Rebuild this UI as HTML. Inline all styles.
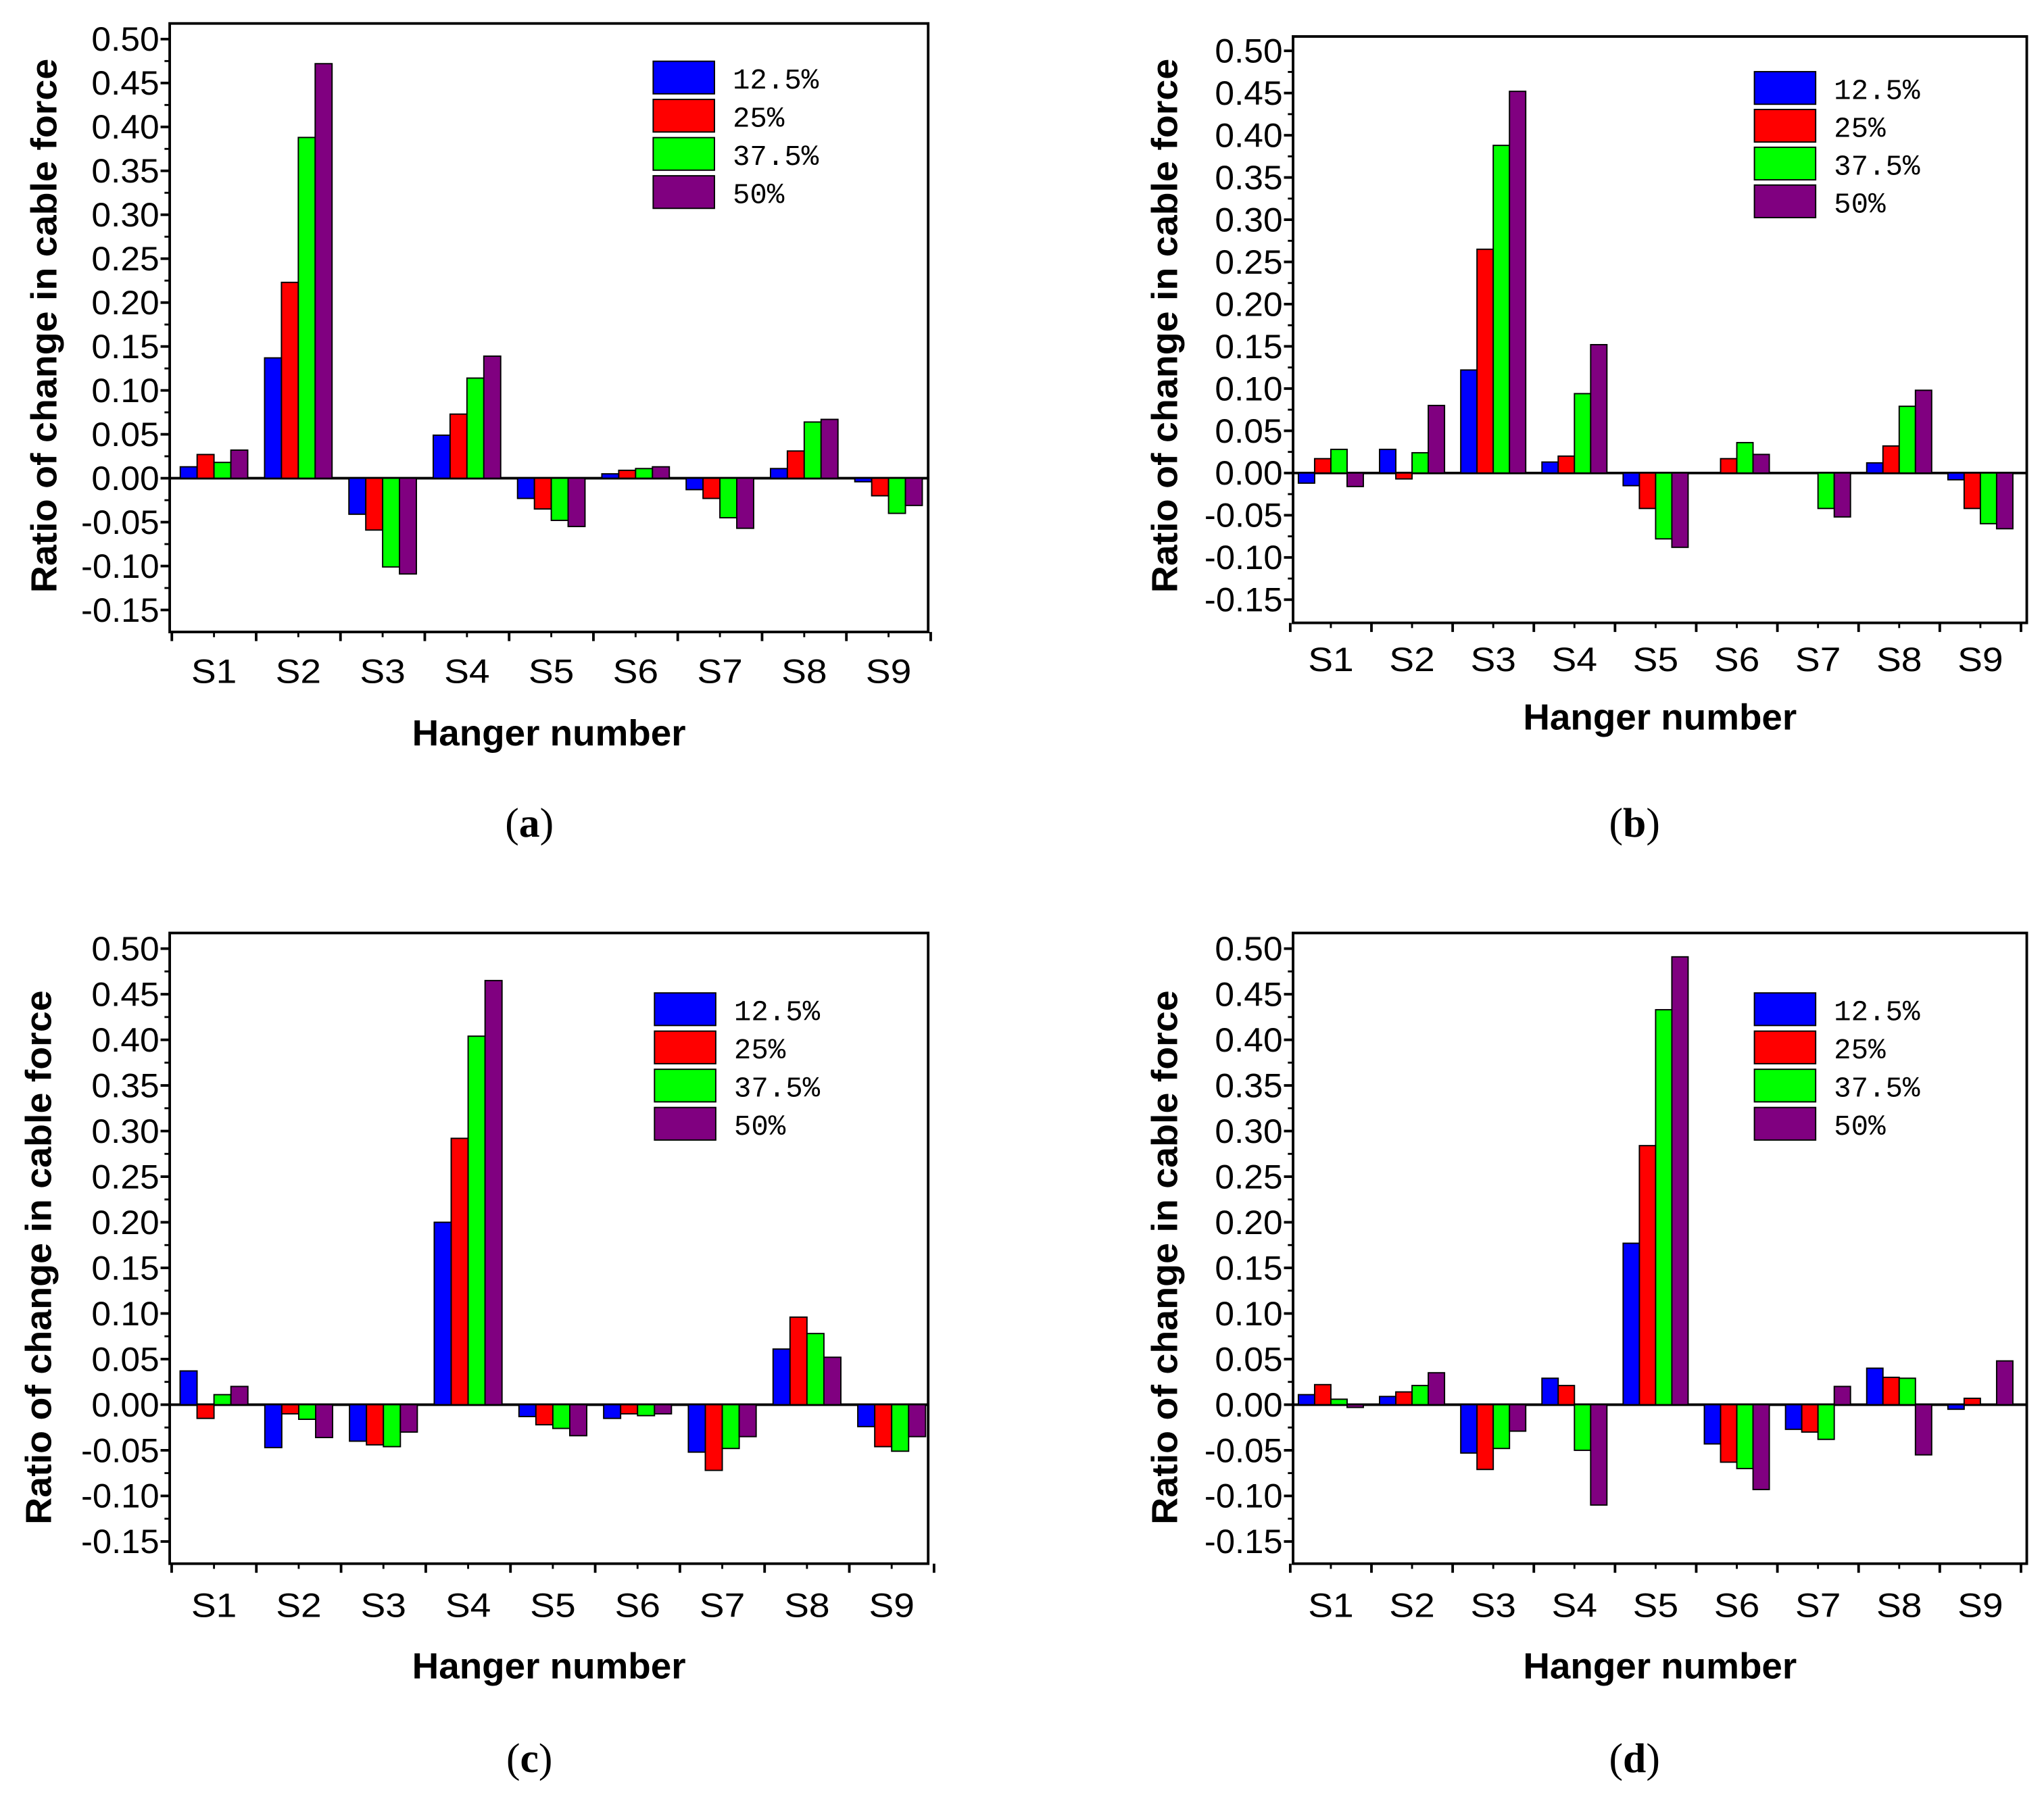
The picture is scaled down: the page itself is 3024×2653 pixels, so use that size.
<!DOCTYPE html>
<html><head><meta charset="utf-8"><style>
html,body{margin:0;padding:0;background:#fff;}
svg{display:block;}
</style></head><body>
<svg id="fig" width="3024" height="2653" viewBox="0 0 1568 1376" xmlns="http://www.w3.org/2000/svg" font-family="Liberation Sans, Arial, sans-serif"></svg>
<script>
const categories = ["S1","S2","S3","S4","S5","S6","S7","S8","S9"];
const seriesNames = ["12.5%","25%","37.5%","50%"];
const yTicks = [-0.15,-0.10,-0.05,0.00,0.05,0.10,0.15,0.20,0.25,0.30,0.35,0.40,0.45,0.50];
const dataA = [[.013,.137,-.041,.049,-.023,.005,-.013,.011,-.004],[.027,.223,-.059,.073,-.035,.009,-.023,.031,-.02],[.018,.388,-.101,.114,-.048,.011,-.045,.064,-.04],[.032,.472,-.109,.139,-.055,.013,-.057,.067,-.031]];
const dataB = [[-.012,.028,.122,.013,-.015,0,0,.012,-.008],[.017,-.007,.265,.02,-.042,.017,0,.032,-.042],[.028,.024,.388,.094,-.078,.036,-.042,.079,-.06],[-.016,.08,.452,.152,-.088,.022,-.052,.098,-.066]];
const dataC = [[.037,-.047,-.04,.2,-.013,-.015,-.052,.061,-.024],[-.015,-.01,-.044,.292,-.022,-.01,-.072,.096,-.046],[.011,-.016,-.046,.404,-.026,-.012,-.048,.078,-.051],[.02,-.036,-.03,.465,-.034,-.01,-.035,.052,-.035]];
const dataD = [[.011,.009,-.053,.029,.177,-.043,-.027,.04,-.005],[.022,.014,-.071,.021,.284,-.063,-.03,.03,.007],[.006,.021,-.048,-.05,.433,-.07,-.038,.029,0],[-.003,.035,-.029,-.11,.491,-.093,.02,-.055,.048]];
const colors = ["#0000ff","#ff0000","#00ff00","#800080"];
const NS="http://www.w3.org/2000/svg";
const svg=document.getElementById('fig');
function mk(tag,attrs,parent){const e=document.createElementNS(NS,tag);for(const k in attrs)e.setAttribute(k,attrs[k]);(parent||svg).appendChild(e);return e;}
const panels=[
 {id:'a',data:dataA,L:130,R:712,T:18,B:485,y0:367,y5:30,cx0:164,dx:64.7,leg:[501,47,29.3],xlab:515,title:562,ylabX:33,ylabY:250,pl:[406,632]},
 {id:'b',data:dataB,L:992,R:1555,T:28,B:478,y0:363,y5:39,cx0:1021,dx:62.3,leg:[1346,55,29],xlab:506,title:550,ylabX:893,ylabY:250,pl:[1254,632]},
 {id:'c',data:dataC,L:130,R:712,T:716,B:1200,y0:1078,y5:728,cx0:164,dx:65,leg:[502,762,29.3],xlab:1232,title:1278,ylabX:29,ylabY:965,pl:[406,1350]},
 {id:'d',data:dataD,L:992,R:1555,T:716,B:1200,y0:1078,y5:728,cx0:1021,dx:62.3,leg:[1346,762,29.3],xlab:1232,title:1278,ylabX:893,ylabY:965,pl:[1254,1350]}
];
panels.forEach(p=>{
 const g=mk('g',{});
 
 
 const ys=v=>p.y0-(v/0.5)*(p.y0-p.y5);
 const xs=i=>p.cx0+i*p.dx;
 const bw=p.dx*0.2;
 const zl=mk('line',{x1:p.L,x2:p.R,y1:ys(0),y2:ys(0),stroke:'#000','stroke-width':2},g);
 
 
 p.data.forEach((ser,s)=>{ser.forEach((v,i)=>{
   const x=xs(i)+(s-1.5)*bw-bw/2;
   const y1=ys(Math.max(v,0)),y2=ys(Math.min(v,0));
   const r=mk('rect',{x:x,y:y1,width:bw,height:Math.max(y2-y1,0.01),fill:colors[s],stroke:'#000','stroke-width':1},g);
   
   
 });});
 const fr=mk('rect',{x:p.L,y:p.T,width:p.R-p.L,height:p.B-p.T,fill:'none',stroke:'#000','stroke-width':2},g);
 
 
 yTicks.forEach(t=>{
   const y=ys(t);
   mk('line',{x1:p.L-7,x2:p.L,y1:y,y2:y,stroke:'#000','stroke-width':2},g);
   const ym=ys(t+0.025);
   if(t<0.5) mk('line',{x1:p.L-4,x2:p.L,y1:ym,y2:ym,stroke:'#000','stroke-width':1.5},g);
   const tx=mk('text',{x:p.L-8,y:y+9,'font-size':26,'text-anchor':'end',textLength:(t<0?60:52),lengthAdjust:'spacingAndGlyphs'},g);
   tx.textContent=t.toFixed(2);
   
   
 });
 categories.forEach((c,i)=>{
   const xb=xs(i)-p.dx/2;
   mk('line',{x1:xb,x2:xb,y1:p.B,y2:p.B+7,stroke:'#000','stroke-width':2},g);
   mk('line',{x1:xs(i),x2:xs(i),y1:p.B,y2:p.B+4,stroke:'#000','stroke-width':1.5},g);
   const tx=mk('text',{x:xs(i),y:p.xlab+9,'font-size':26,'text-anchor':'middle',textLength:35,lengthAdjust:'spacingAndGlyphs'},g);
   tx.textContent=c;
   
   
 });
 mk('line',{x1:xs(8)+p.dx/2,x2:xs(8)+p.dx/2,y1:p.B,y2:p.B+7,stroke:'#000','stroke-width':2},g);
 const xt=mk('text',{x:(p.L+p.R)/2,y:p.title+10,'font-size':28,'font-weight':'bold','text-anchor':'middle',textLength:210,lengthAdjust:'spacingAndGlyphs'},g);
 xt.textContent='Hanger number';
 
 
 const yt=mk('text',{x:0,y:0,'font-size':28,'font-weight':'bold','text-anchor':'middle',textLength:410,lengthAdjust:'spacingAndGlyphs',transform:`translate(${p.ylabX+10},${p.ylabY}) rotate(-90)`},g);
 yt.textContent='Ratio of change in cable force';
 
 
 const pl=mk('text',{x:p.pl[0],y:p.pl[1]+10,'font-size':32,'font-family':'Liberation Serif, serif','text-anchor':'middle'},g);
 pl.innerHTML='(<tspan font-weight="bold">'+p.id+'</tspan>)';
 
 
 seriesNames.forEach((n,s)=>{
   const y=p.leg[1]+s*p.leg[2];
   const r=mk('rect',{x:p.leg[0],y:y,width:47,height:25,fill:colors[s],stroke:'#000','stroke-width':1},g);
   
   
   const t=mk('text',{x:p.leg[0]+61,y:y+21,'font-size':22,'font-family':'Liberation Mono, monospace'},g);
   t.textContent=n;
   
   
 });
});
</script>
</body></html>
